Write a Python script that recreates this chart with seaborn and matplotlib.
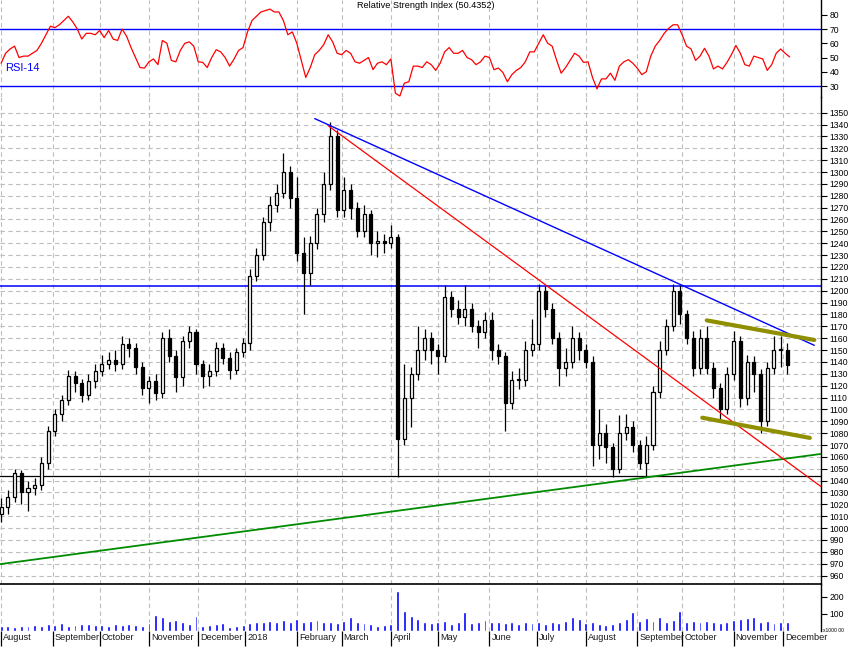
import numpy as np
import pandas as pd
import matplotlib
matplotlib.use("Agg")
import matplotlib.pyplot as plt
import seaborn as sns

# ---------------- data ----------------
start_date = "2017-08-01"
end_date = "2018-12-31"
bar_step = 3   # trading days per candle
rsi_step = 2   # trading days per RSI sample
first_open = 1012

closes = [1018, 1026, 1046, 1030, 1034, 1036, 1055, 1082, 1096, 1108,
          1128, 1122, 1112, 1124, 1132, 1138, 1142, 1138, 1155, 1152,
          1136, 1118, 1124, 1114, 1160, 1145, 1127, 1158, 1165, 1138,
          1128, 1132, 1152, 1143, 1133, 1148, 1156, 1212, 1230, 1258,
          1272, 1282, 1300, 1278, 1232, 1215, 1240, 1265, 1290, 1330,
          1268, 1285, 1270, 1250, 1265, 1240, 1242, 1240, 1245, 1075,
          1110, 1130, 1150, 1160, 1150, 1145, 1195, 1185, 1178, 1185,
          1170, 1165, 1175, 1150, 1145, 1105, 1125, 1125, 1150, 1155,
          1200, 1185, 1160, 1135, 1140, 1160, 1150, 1140, 1070, 1080,
          1068, 1050, 1080, 1085, 1070, 1055, 1070, 1115, 1150, 1170,
          1200, 1180, 1160, 1135, 1160, 1135, 1118, 1100, 1130, 1158,
          1110, 1140, 1130, 1090, 1135, 1150, 1150, 1137]

highs = [1025, 1032, 1050, 1049, 1040, 1042, 1060, 1086, 1100, 1112,
         1133, 1132, 1126, 1130, 1138, 1146, 1148, 1150, 1162, 1160,
         1156, 1140, 1128, 1130, 1165, 1168, 1150, 1162, 1170, 1168,
         1142, 1138, 1157, 1156, 1148, 1152, 1160, 1218, 1236, 1262,
         1280, 1290, 1316, 1305, 1296, 1245, 1246, 1270, 1300, 1342,
         1335, 1296, 1290, 1275, 1272, 1268, 1250, 1248, 1255, 1248,
         1138, 1136, 1170, 1168, 1165, 1155, 1205, 1200, 1192, 1205,
         1190, 1175, 1182, 1182, 1155, 1148, 1132, 1135, 1158, 1176,
         1206, 1204, 1190, 1165, 1152, 1170, 1165, 1155, 1145, 1100,
         1088, 1072, 1095, 1096, 1090, 1074, 1078, 1120, 1158, 1176,
         1206, 1205, 1184, 1166, 1168, 1170, 1140, 1122, 1136, 1166,
         1162, 1146, 1145, 1134, 1140, 1162, 1162, 1156]

lows = [1005, 1012, 1022, 1020, 1014, 1028, 1032, 1050, 1078, 1090,
        1104, 1115, 1106, 1108, 1118, 1128, 1134, 1132, 1134, 1144,
        1130, 1112, 1105, 1108, 1110, 1140, 1115, 1120, 1152, 1130,
        1118, 1120, 1128, 1138, 1126, 1130, 1144, 1150, 1208, 1226,
        1250, 1266, 1278, 1270, 1225, 1180, 1205, 1235, 1258, 1285,
        1262, 1262, 1260, 1245, 1245, 1230, 1228, 1232, 1236, 1043,
        1070, 1085, 1125, 1142, 1138, 1130, 1140, 1178, 1172, 1170,
        1165, 1152, 1160, 1142, 1138, 1082, 1100, 1117, 1120, 1145,
        1150, 1178, 1155, 1120, 1128, 1135, 1142, 1135, 1052, 1058,
        1055, 1043, 1046, 1074, 1064, 1050, 1043, 1066, 1110, 1146,
        1166, 1172, 1155, 1128, 1130, 1130, 1110, 1092, 1096, 1125,
        1102, 1104, 1115, 1080, 1086, 1130, 1136, 1130]

volumes = [30, 28, 25, 32, 28, 35, 30, 40, 35, 45, 30, 38, 40, 42, 35,
           38, 32, 40, 35, 42, 38, 30,
           45, 95, 80, 60, 65, 50, 40, 90,
           30, 35, 40, 45, 25, 30, 35,
           45, 50, 55, 60, 50, 65, 55,
           70, 50, 60, 65, 55, 50,
           45, 60, 85, 50, 45, 40, 30,
           35, 40, 235, 120, 90, 70,
           55, 45, 50, 60, 40, 55, 110,
           45, 50, 65, 55, 50, 45, 55,
           40, 50, 45, 55, 40, 50, 45,
           60, 85, 70, 45, 55, 40, 35,
           40, 55, 70, 110, 60, 75,
           60, 80, 55, 65, 120, 55, 60,
           50, 60, 55, 45, 50, 65, 70,
           75, 80, 55, 60, 45, 50, 55]

rsi_values = [46, 53, 56, 58, 50, 51, 51, 53, 55, 60,
              66, 72, 71, 73, 76, 79, 75, 70, 63, 67,
              67, 66, 69, 64, 69, 63, 62, 70, 65, 57,
              50, 43, 42.6, 47, 49, 45, 62, 60, 48, 47,
              55, 60, 61, 58, 47, 46.6, 43, 50, 55.5, 54,
              50, 44, 49, 55, 57, 68, 76, 79, 82, 83,
              84, 82, 82, 76, 66, 68, 60, 48, 36, 43,
              52, 55, 59, 66, 61, 53, 52, 55, 53, 47,
              46, 48, 50, 41.5, 46, 47, 45, 49, 25, 23,
              32, 33, 44, 44, 43, 47, 45, 41, 46, 54,
              57, 53, 53, 55, 50, 48.5, 45, 47, 51, 50,
              41.5, 42.6, 39.5, 33, 38, 41, 43, 47, 54, 54,
              60, 66, 60, 58, 48, 39, 43, 48, 53, 51,
              46.6, 47, 36, 28, 35, 35, 39, 34, 44, 47,
              48.5, 46, 42.5, 38, 40, 51, 58, 62, 67, 70.5,
              73, 73, 66, 58, 56, 48, 51, 56.5, 51, 42,
              44, 42, 46.5, 52, 58.5, 53, 45, 44, 51, 50,
              49, 41, 45, 53, 56, 53, 50.4352]

month_labels = ["August", "September", "October", "November", "December",
                "2018", "February", "March", "April", "May", "June", "July",
                "August", "September", "October", "November", "December"]
price_ticks = [960, 970, 980, 990, 1000, 1010, 1020, 1030, 1040, 1050, 1060,
               1070, 1080, 1090, 1100, 1110, 1120, 1130, 1140, 1150, 1160,
               1170, 1180, 1190, 1200, 1210, 1220, 1230, 1240, 1250, 1260,
               1270, 1280, 1290, 1300, 1310, 1320, 1330, 1340, 1350]
rsi_ticks = [30, 40, 50, 60, 70, 80]
rsi_levels = [30, 70]
vol_ticks = [100, 200]
rsi_title = "Relative Strength Index (50.4352)"

resistance_level = 1204
support_level = 1043.5
# trend lines: (trading-day index, price)
blue_trend_x, blue_trend_y = [140, 363], [1345, 1154]
red_trend_x, red_trend_y = [146, 366], [1339, 1035]
green_trend_x, green_trend_y = [-1, 366], [969.5, 1062.5]
olive_up_x, olive_up_y = [315, 363], [1175, 1158.5]
olive_lo_x, olive_lo_y = [313, 361], [1093, 1076]

# ---------------- figure ----------------
sns.set_style("white")
plt.rcParams["font.family"] = ["Liberation Sans", "DejaVu Sans"]

W, H = 858, 660
fig = plt.figure(figsize=(W / 100, H / 100), dpi=100)
right = 821 / W
ax_r = fig.add_axes([0, 1 - 97 / H, right, 97 / H])
ax_p = fig.add_axes([0, 1 - 584 / H, right, (584 - 97) / H])
ax_v = fig.add_axes([0, 1 - 631 / H, right, (631 - 584) / H])

bdays = pd.bdate_range(start_date, end_date)
periods = bdays.to_period("M")
month_pos = np.flatnonzero(np.r_[True, periods[1:] != periods[:-1]])

n = len(closes)
x = np.arange(n) * bar_step
c = np.array(closes, float)
o = np.array([first_open] + closes[:-1], float)
hi = np.array(highs, float)
lo = np.array(lows, float)

xlim = (-0.5, 366)
grid_kw = dict(color="#bdbdbd", lw=0.8, ls=(0, (4, 3)), zorder=0)

for ax in (ax_r, ax_p, ax_v):
    ax.set_xlim(*xlim)
    for m in month_pos:
        ax.axvline(m, **grid_kw)
    for s in ("left", "top", "bottom"):
        ax.spines[s].set_visible(False)
    ax.spines["right"].set_visible(True)
    ax.spines["right"].set_color("black")
    ax.spines["right"].set_linewidth(1.0)
    ax.yaxis.tick_right()
    ax.tick_params(axis="y", direction="out", length=4, width=0.8,
                   labelsize=6.2, pad=2, colors="black")
    ax.set_xticks([])
    ax.set_facecolor("none")

# ---- RSI panel ----
ax_r.set_ylim(22.3, 90.4)
for lv in rsi_levels:
    ax_r.axhline(lv, color="#0000ff", lw=1.0, zorder=1)
rsi_x = np.arange(len(rsi_values)) * rsi_step
sns.lineplot(x=rsi_x, y=rsi_values, ax=ax_r, color="#ff0000", linewidth=0.9,
             zorder=3, legend=False)
ax_r.set_yticks(rsi_ticks)
ax_r.set_yticklabels([str(t) for t in rsi_ticks])
ax_r.text(5 / 821, 0.30, "RSI-14", transform=ax_r.transAxes, color="#0000ff",
          fontsize=8, ha="left", va="center")
fig.text(426 / W, 1 - 5.5 / H, rsi_title, fontsize=6.6, ha="center",
         va="center", color="black")
ax_r.set_xlabel("")
ax_r.set_ylabel("")

# ---- price panel ----
ax_p.set_ylim(952.9, 1363.2)
for v in price_ticks:
    ax_p.axhline(v, **grid_kw)
ax_p.axhline(resistance_level, color="#0000ff", lw=1.1, zorder=1)
ax_p.axhline(support_level, color="#000000", lw=0.9, zorder=1)

up = c >= o
body_bottom = np.minimum(o, c)
body_h = np.maximum(np.abs(c - o), 0.9)
ax_p.vlines(x, lo, hi, color="black", lw=0.9, zorder=2)
ax_p.bar(x, body_h, bottom=body_bottom, width=1.35,
         color=np.where(up, "white", "black"), edgecolor="black",
         linewidth=0.9, zorder=3)

for tx, ty, col, lw in [(green_trend_x, green_trend_y, "#008c00", 1.3),
                        (red_trend_x, red_trend_y, "#ff0000", 0.9),
                        (blue_trend_x, blue_trend_y, "#0000ff", 1.0),
                        (olive_up_x, olive_up_y, "#8f8f00", 3.0),
                        (olive_lo_x, olive_lo_y, "#8f8f00", 3.0)]:
    sns.lineplot(x=tx, y=ty, ax=ax_p, color=col, linewidth=lw, zorder=4,
                 legend=False)
ax_p.set_xlim(*xlim)
ax_p.set_yticks(price_ticks)
ax_p.set_yticklabels([str(t) for t in price_ticks])
ax_p.set_xlabel("")
ax_p.set_ylabel("")

# ---- volume panel ----
ax_v.set_ylim(0, 276)
ax_v.spines["top"].set_visible(True)
ax_v.spines["top"].set_color("black")
ax_v.spines["top"].set_linewidth(1.2)
ax_v.bar(x, volumes, width=1.3, color="#0000ff", zorder=3)
ax_v.set_yticks(vol_ticks)
ax_v.set_yticklabels([str(t) for t in vol_ticks])
ax_v.set_xticks(month_pos)
ax_v.set_xticklabels([])
ax_v.tick_params(axis="x", direction="out", length=11, width=0.9,
                 colors="black", bottom=True)
for m, lab in zip(month_pos, month_labels):
    ax_v.annotate(lab, xy=(m, 0), xycoords=("data", "axes fraction"),
                  xytext=(1.5, -1.5), textcoords="offset points",
                  ha="left", va="top", fontsize=6.6, color="#1a1a1a")
ax_v.text(1.003, 0.0, "x1000 00", transform=ax_v.transAxes, fontsize=3.6,
          ha="left", va="center", color="black")

fig.savefig("out.png", dpi=100, facecolor="white")
